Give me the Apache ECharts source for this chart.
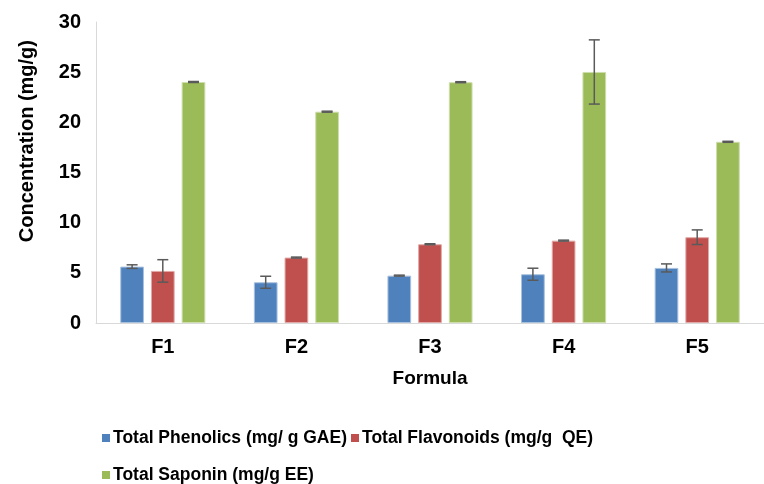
<!DOCTYPE html>
<html>
<head>
<meta charset="utf-8">
<script src="https://cdn.jsdelivr.net/npm/echarts@6/dist/echarts.min.js"></script>
<style>html,body{margin:0;padding:0;background:#fff;}#c{width:764px;height:484px;}</style>
</head>
<body>
<div id="c"></div>
<script>
const categories = ['F1', 'F2', 'F3', 'F4', 'F5'];
const seriesNames = ['Total Phenolics (mg/ g GAE)', 'Total Flavonoids (mg/g  QE)', 'Total Saponin (mg/g EE)'];
const phenolics = [5.62, 4.06, 4.72, 4.86, 5.49];
const phenolicsErr = [0.18, 0.6, 0.05, 0.6, 0.4];
const flavonoids = [5.19, 6.52, 7.85, 8.21, 8.55];
const flavonoidsErr = [1.12, 0.05, 0.05, 0.05, 0.73];
const saponin = [24.02, 21.06, 24.0, 25.02, 18.06];
const saponinErr = [0.05, 0.05, 0.05, 3.2, 0.05];
const yTicks = [0, 5, 10, 15, 20, 25, 30];
const xTitle = 'Formula';
const yTitle = 'Concentration (mg/g)';

const colors = ['#4F81BD', '#C0504D', '#9BBB59'];
const borders = ['#A7C0DE', '#E0A8A6', '#CDDDAC'];
const values = [phenolics, flavonoids, saponin];
const errors = [phenolicsErr, flavonoidsErr, saponinErr];

const chart = echarts.init(document.getElementById('c'));
const FONT = '"Liberation Sans", Arial, sans-serif';

const barWidth = 23.7;
const barGapPx = 7;

const series = [];
values.forEach((vals, i) => {
  series.push({
    name: seriesNames[i],
    type: 'bar',
    data: vals,
    barWidth: barWidth,
    barGap: (barGapPx / barWidth * 100) + '%',
    itemStyle: { color: colors[i], borderColor: borders[i], borderWidth: 1 },
    z: 2
  });
});
values.forEach((vals, i) => {
  series.push({
    type: 'custom',
    name: seriesNames[i] + ' err',
    z: 5,
    silent: true,
    data: vals.map((v, k) => [k, v, errors[i][k]]),
    renderItem: function (params, api) {
      const k = api.value(0), v = api.value(1), e = api.value(2);
      const base = api.coord([k, 0]);
      const offset = (i - 1) * (barWidth + barGapPx);
      const x = base[0] + offset;
      const yHi = api.coord([k, v + e])[1];
      const yLo = api.coord([k, v - e])[1];
      const half = 5.5;
      const st = { stroke: '#5a5a5a', lineWidth: 1.5 };
      return {
        type: 'group',
        children: [
          { type: 'line', shape: { x1: x, y1: yHi, x2: x, y2: yLo }, style: st },
          { type: 'line', shape: { x1: x - half, y1: yHi, x2: x + half, y2: yHi }, style: st },
          { type: 'line', shape: { x1: x - half, y1: yLo, x2: x + half, y2: yLo }, style: st }
        ]
      };
    }
  });
});

const legendText = { fontFamily: FONT, fontWeight: 'bold', fontSize: 17.5, color: '#000', padding: [0, 0, 0, -2] };
chart.setOption({
  animation: false,
  backgroundColor: '#fff',
  textStyle: { fontFamily: FONT },
  grid: { left: 96, top: 22, width: 680, height: 301 },
  legend: [
    {
      data: [seriesNames[0], seriesNames[1]],
      left: 97, top: 424, itemWidth: 8, itemHeight: 8, itemGap: 4,
      icon: 'rect',
      itemStyle: { borderWidth: 0 },
      textStyle: legendText
    },
    {
      data: [seriesNames[2]],
      left: 97, top: 461, itemWidth: 8, itemHeight: 8,
      icon: 'rect',
      itemStyle: { borderWidth: 0 },
      textStyle: legendText
    }
  ],
  xAxis: {
    type: 'category',
    data: categories,
    axisLine: { lineStyle: { color: '#d9d9d9', width: 1 } },
    axisTick: { show: false },
    axisLabel: { fontFamily: FONT, fontWeight: 'bold', fontSize: 20, color: '#000', margin: 14 }
  },
  yAxis: {
    type: 'value',
    min: yTicks[0], max: yTicks[yTicks.length - 1], interval: 5,
    axisLine: { show: true, lineStyle: { color: '#d9d9d9', width: 1 } },
    axisTick: { show: false },
    splitLine: { show: false },
    axisLabel: { fontFamily: FONT, fontWeight: 'bold', fontSize: 20, color: '#000', margin: 15 }
  },
  graphic: [
    {
      type: 'text',
      left: 17, top: 40,
      rotation: Math.PI / 2,
      style: { text: yTitle, font: 'bold 20px ' + FONT, fill: '#000' }
    },
    {
      type: 'text',
      x: 430, y: 369,
      style: { text: xTitle, font: 'bold 19px ' + FONT, fill: '#000', align: 'center', verticalAlign: 'top' }
    }
  ],
  series: series
});
</script>
</body>
</html>
